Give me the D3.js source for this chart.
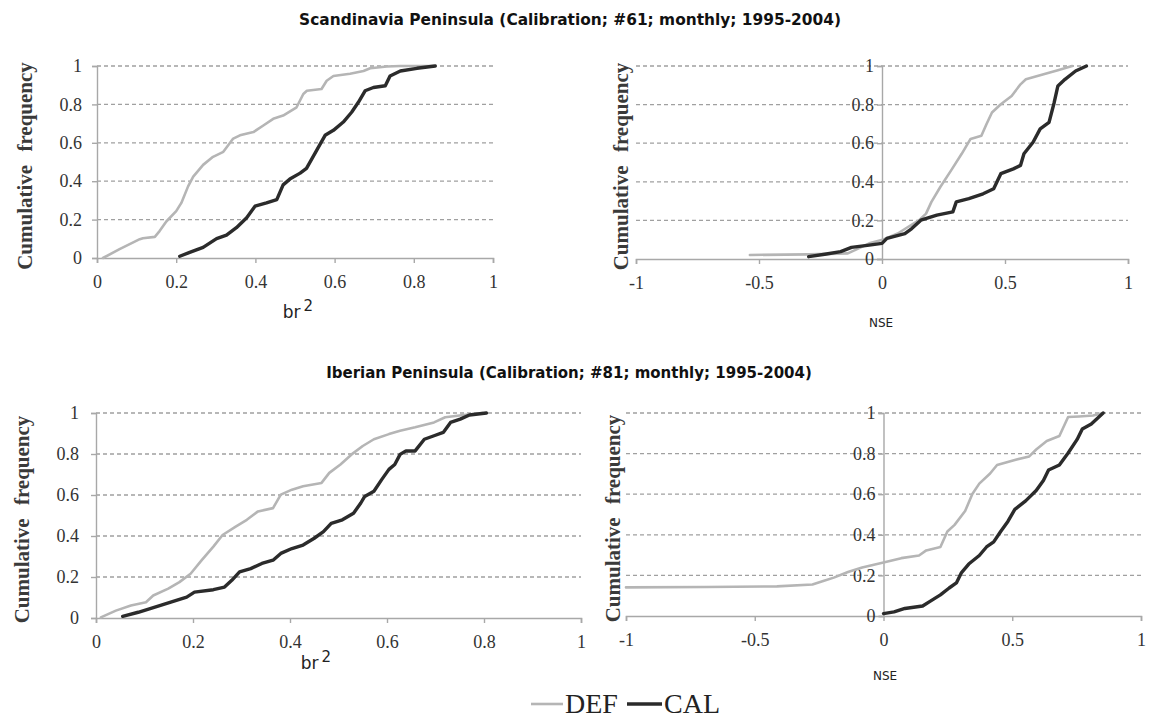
<!DOCTYPE html>
<html>
<head>
<meta charset="utf-8">
<script src="https://cdn.jsdelivr.net/npm/d3@7"></script>
<style>
  html, body { margin: 0; padding: 0; background: #fff; }
  svg { display: block; }
</style>
</head>
<body>
<svg id="chart" width="1156" height="720"></svg>
<script>
// ---------------- DATA ----------------
const titles = [
  "Scandinavia Peninsula (Calibration; #61; monthly; 1995-2004)",
  "Iberian Peninsula (Calibration; #81; monthly; 1995-2004)"
];
const seriesNames = ["DEF", "CAL"];
const yTicks = [0, 0.2, 0.4, 0.6, 0.8, 1];
const br2Ticks = [0, 0.2, 0.4, 0.6, 0.8, 1];
const nseTicks = [-1, -0.5, 0, 0.5, 1];

// Scandinavia, br2
const scanBr2DefX = [0.015,0.057,0.108,0.116,0.146,0.158,0.175,0.2,0.213,0.23,0.243,0.268,0.293,0.319,0.344,0.361,0.395,0.42,0.445,0.47,0.504,0.521,0.53,0.567,0.58,0.597,0.639,0.673,0.69,0.732,0.766,0.85];
const scanBr2DefY = [0,0.046,0.098,0.103,0.11,0.14,0.19,0.244,0.287,0.373,0.424,0.485,0.527,0.553,0.622,0.639,0.656,0.69,0.725,0.742,0.785,0.854,0.871,0.88,0.923,0.948,0.96,0.974,0.988,0.997,1,1];
const scanBr2CalX = [0.209,0.234,0.268,0.302,0.327,0.352,0.378,0.399,0.428,0.454,0.47,0.487,0.513,0.529,0.555,0.576,0.597,0.622,0.643,0.66,0.677,0.698,0.728,0.74,0.766,0.808,0.854];
const scanBr2CalY = [0.009,0.029,0.055,0.101,0.119,0.158,0.21,0.27,0.287,0.304,0.381,0.411,0.442,0.467,0.562,0.639,0.665,0.708,0.759,0.811,0.871,0.888,0.897,0.948,0.974,0.988,1];

// Scandinavia, NSE
const scanNseDefX = [-0.537,-0.298,-0.139,-0.11,-0.052,0.006,0.064,0.107,0.151,0.179,0.201,0.237,0.281,0.324,0.36,0.404,0.425,0.447,0.483,0.527,0.563,0.585,0.657,0.715,0.773];
const scanNseDefY = [0.021,0.024,0.029,0.046,0.081,0.101,0.132,0.167,0.201,0.235,0.296,0.373,0.459,0.545,0.622,0.639,0.699,0.759,0.802,0.845,0.905,0.931,0.957,0.978,1];
const scanNseCalX = [-0.298,-0.226,-0.168,-0.124,-0.052,0,0.02,0.093,0.121,0.158,0.223,0.288,0.302,0.353,0.411,0.454,0.483,0.534,0.563,0.577,0.614,0.643,0.679,0.7,0.715,0.744,0.787,0.831];
const scanNseCalY = [0.012,0.026,0.038,0.06,0.072,0.081,0.107,0.132,0.158,0.201,0.227,0.244,0.296,0.313,0.338,0.364,0.442,0.467,0.485,0.545,0.605,0.674,0.708,0.811,0.897,0.931,0.974,1];

// Iberia, br2
const ibeBr2DefX = [0.01,0.041,0.072,0.103,0.118,0.149,0.172,0.195,0.218,0.242,0.261,0.288,0.311,0.334,0.365,0.381,0.404,0.427,0.465,0.481,0.504,0.527,0.55,0.573,0.604,0.627,0.658,0.697,0.72,0.758,0.797];
const ibeBr2DefY = [0.003,0.036,0.061,0.077,0.11,0.143,0.175,0.216,0.282,0.348,0.405,0.446,0.479,0.52,0.536,0.602,0.626,0.643,0.659,0.708,0.749,0.798,0.839,0.872,0.897,0.913,0.93,0.954,0.979,0.99,1];
const ibeBr2CalX = [0.055,0.087,0.133,0.164,0.187,0.203,0.242,0.265,0.28,0.296,0.319,0.342,0.365,0.381,0.404,0.427,0.45,0.469,0.485,0.508,0.531,0.546,0.554,0.573,0.589,0.604,0.616,0.627,0.639,0.658,0.677,0.697,0.716,0.731,0.751,0.77,0.805];
const ibeBr2CalY = [0.008,0.028,0.061,0.085,0.102,0.126,0.138,0.151,0.184,0.225,0.241,0.266,0.282,0.315,0.339,0.356,0.389,0.421,0.462,0.479,0.511,0.561,0.593,0.618,0.675,0.725,0.749,0.798,0.815,0.815,0.872,0.889,0.905,0.954,0.97,0.99,1];

// Iberia, NSE
const ibeNseDefX = [-1,-0.69,-0.414,-0.276,-0.234,-0.193,-0.138,-0.083,0,0.069,0.138,0.166,0.221,0.248,0.276,0.317,0.345,0.372,0.414,0.441,0.51,0.566,0.593,0.634,0.683,0.717,0.759,0.814,0.853];
const ibeNseDefY = [0.141,0.143,0.146,0.155,0.172,0.189,0.217,0.239,0.264,0.285,0.298,0.323,0.34,0.416,0.449,0.517,0.601,0.652,0.702,0.744,0.769,0.786,0.82,0.862,0.887,0.98,0.983,0.988,1];
const ibeNseCalX = [0,0.041,0.083,0.152,0.179,0.221,0.255,0.283,0.303,0.331,0.372,0.4,0.428,0.455,0.483,0.51,0.552,0.593,0.621,0.641,0.683,0.717,0.752,0.772,0.807,0.853];
const ibeNseCalY = [0.012,0.02,0.037,0.049,0.071,0.104,0.138,0.163,0.214,0.256,0.298,0.34,0.365,0.416,0.466,0.525,0.567,0.618,0.668,0.719,0.744,0.803,0.87,0.921,0.946,1];

// ---------------- LAYOUT ----------------
const svg = d3.select("#chart");
const colors = { DEF: "#b5b5b5", CAL: "#2b2b2b" };
const widths = { DEF: 2.6, CAL: 3.4 };
const serif = "'Liberation Serif', 'Times New Roman', serif";
const sans = "'DejaVu Sans', Verdana, sans-serif";
const axisGray = "#a8a8a8";

const panels = [
  { x0: 97, x1: 493, yb: 258, yt: 66, dom: [0, 1], ticks: br2Ticks, yAxisAt: 0, kind: "br2",
    titleX: 25, labelPos: [298, 318], yLabOff: -15,
    def: [scanBr2DefX, scanBr2DefY], cal: [scanBr2CalX, scanBr2CalY] },
  { x0: 636, x1: 1128, yb: 259, yt: 66, dom: [-1, 1], ticks: nseTicks, yAxisAt: 0, kind: "nse",
    titleX: 621, labelPos: [881, 327],
    yLabOff: -8,
    def: [scanNseDefX, scanNseDefY], cal: [scanNseCalX, scanNseCalY] },
  { x0: 96, x1: 581, yb: 618, yt: 413, dom: [0, 1], ticks: br2Ticks, yAxisAt: 0, kind: "br2",
    titleX: 22, labelPos: [316, 669], yLabOff: -17,
    def: [ibeBr2DefX, ibeBr2DefY], cal: [ibeBr2CalX, ibeBr2CalY] },
  { x0: 626, x1: 1141, yb: 616, yt: 413, dom: [-1, 1], ticks: nseTicks, yAxisAt: 0, kind: "nse",
    titleX: 613, labelPos: [885, 680], yLabOff: -8,
    def: [ibeNseDefX, ibeNseDefY], cal: [ibeNseCalX, ibeNseCalY] }
];

panels.forEach(p => {
  const x = d3.scaleLinear().domain(p.dom).range([p.x0, p.x1]);
  const y = d3.scaleLinear().domain([0, 1]).range([p.yb, p.yt]);
  const g = svg.append("g");
  const ax = x(p.yAxisAt);

  // dashed gridlines
  g.selectAll("line.grid").data(yTicks.filter(t => t > 0)).enter().append("line")
    .attr("x1", p.x0).attr("x2", p.x1)
    .attr("y1", d => y(d)).attr("y2", d => y(d))
    .attr("stroke", "#a0a0a0").attr("stroke-width", 1.3)
    .attr("stroke-dasharray", "4,3");

  // x axis
  const xAxis = d3.axisBottom(x).tickValues(p.ticks).tickSize(5).tickFormat(d3.format("~g"));
  const gx = g.append("g").attr("transform", `translate(0,${p.yb})`).call(xAxis);
  gx.attr("font-family", serif).attr("font-size", 18);
  gx.select(".domain").attr("stroke", axisGray).attr("stroke-width", 1.6);
  gx.selectAll(".tick line").attr("stroke", axisGray).attr("stroke-width", 1.4);
  gx.selectAll(".tick text")
    .style("font-family", serif).style("font-size", "18px")
    .attr("fill", "#333").attr("dy", "1.2em")
    .text(d => d < 0 ? "-" + Math.abs(d) : d3.format("~g")(d));

  // y axis
  const yAxis = d3.axisLeft(y).tickValues(yTicks).tickSize(5).tickFormat(d3.format("~g"));
  const gy = g.append("g").attr("transform", `translate(${ax},0)`).call(yAxis);
  gy.attr("font-family", serif).attr("font-size", 18);
  gy.select(".domain").attr("stroke", axisGray).attr("stroke-width", 1.4);
  gy.selectAll(".tick line").attr("stroke", axisGray).attr("stroke-width", 1.4);
  gy.selectAll(".tick text")
    .style("font-family", serif).style("font-size", "18px")
    .attr("fill", "#333").attr("x", p.yLabOff);

  // y title
  g.append("text")
    .attr("transform", `translate(${p.titleX},${(p.yt + p.yb) / 2 + 4}) rotate(-90)`)
    .attr("text-anchor", "middle").attr("dominant-baseline", "central")
    .style("font-family", serif).style("font-size", "21px").style("font-weight", "bold")
    .attr("fill", "#3a3a3a").attr("word-spacing", "8px")
    .text("Cumulative frequency");

  // x label
  if (p.kind === "br2") {
    const t = g.append("text").attr("x", p.labelPos[0]).attr("y", p.labelPos[1])
      .attr("text-anchor", "middle").style("font-family", sans).style("font-size", "17px").attr("fill", "#222");
    t.append("tspan").text("br");
    t.append("tspan").attr("dy", -7).attr("dx", 3).style("font-size", "15px").text("2");
  } else {
    g.append("text").attr("x", p.labelPos[0]).attr("y", p.labelPos[1])
      .attr("text-anchor", "middle").style("font-family", sans).style("font-size", "12px").attr("fill", "#222")
      .text("NSE");
  }

  // curves
  const line = d3.line().x(d => x(d[0])).y(d => y(d[1]));
  [["DEF", p.def], ["CAL", p.cal]].forEach(([name, arr]) => {
    const pts = arr[0].map((v, i) => [v, arr[1][i]]);
    g.append("path").datum(pts)
      .attr("d", line).attr("fill", "none")
      .attr("stroke", colors[name]).attr("stroke-width", widths[name])
      .attr("stroke-linejoin", "round").attr("stroke-linecap", "round");
  });
});

// titles
svg.append("text").attr("x", 570).attr("y", 25).attr("text-anchor", "middle")
  .style("font-family", sans).style("font-weight", "bold").style("font-size", "15.4px").attr("fill", "#111")
  .text(titles[0]);
svg.append("text").attr("x", 569).attr("y", 378).attr("text-anchor", "middle")
  .style("font-family", sans).style("font-weight", "bold").style("font-size", "15px").attr("fill", "#111")
  .text(titles[1]);

// legend
const leg = svg.append("g");
const legItems = [
  { name: seriesNames[0], lx: 531, tx: 565 },
  { name: seriesNames[1], lx: 627, tx: 664 }
];
legItems.forEach(it => {
  leg.append("line").attr("x1", it.lx).attr("x2", it.tx - 2).attr("y1", 704).attr("y2", 704)
    .attr("stroke", colors[it.name]).attr("stroke-width", widths[it.name]);
  leg.append("text").attr("x", it.tx).attr("y", 713)
    .style("font-family", serif).style("font-size", "28px").attr("fill", "#222")
    .text(it.name);
});
</script>
</body>
</html>
